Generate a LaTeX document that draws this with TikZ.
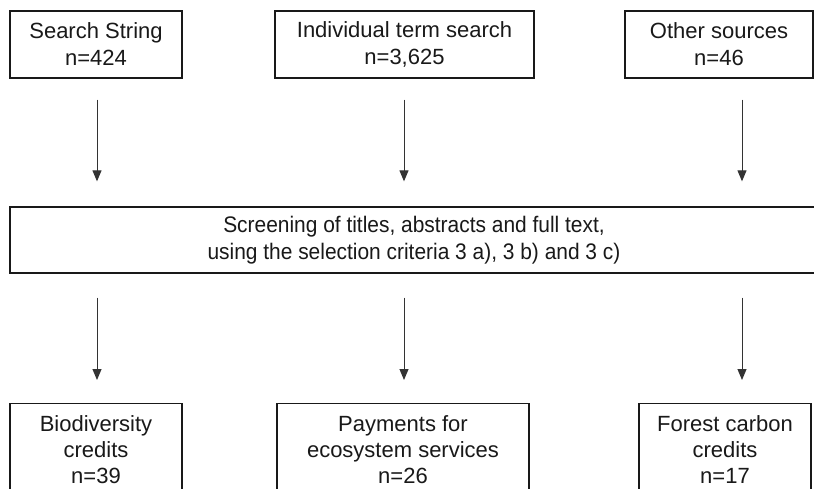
\documentclass[tikz,border=0pt]{standalone}
\usepackage{fontspec}
\setmainfont{Liberation Sans}
\newfontfamily\narrowfont[FakeStretch=0.93]{Liberation Sans}
\usetikzlibrary{arrows.meta}
\begin{document}
\begin{tikzpicture}[x=1pt,y=-1pt,
  box/.style={draw=black!90, line width=1.3pt, align=center, inner sep=0pt, text=black!90,
    font=\fontsize{22}{27}\selectfont},
  lowbox/.style={box, anchor=north, minimum height=92pt, font=\fontsize{22}{26}\selectfont},
  arr/.style={draw=black!80, line width=1pt, -{Triangle[length=11pt,width=9pt]}}]
\useasboundingbox (0,0) rectangle (814,489);
\fill[white] (0,0) rectangle (814,489);
\clip (0,0) rectangle (814,489);
% top row
\node[box, minimum width=172pt, minimum height=67pt] (t1) at (96,44.5) {Search String\\n=424};
\node[box, minimum width=259pt, minimum height=67pt] (t2) at (404.5,44.5) {Individual term search\\n=3,625};
\node[box, minimum width=188pt, minimum height=67pt] (t3) at (719,44.5) {Other sources\\n=46};
% middle
\node[box, minimum width=808pt, minimum height=66pt, font=\narrowfont\fontsize{22.5}{27}\selectfont] (mid) at (414,240)
  {Screening of titles, abstracts and full text,\\using the selection criteria 3 a), 3 b) and 3 c)};
% bottom row
\node[lowbox, minimum width=172pt] (b1) at (96,403) {Biodiversity\\credits\\n=39};
\node[lowbox, minimum width=252pt] (b2) at (403,403) {Payments for\\ecosystem services\\n=26};
\node[lowbox, minimum width=172pt] (b3) at (725,403) {Forest carbon\\credits\\n=17};
% arrow columns
\coordinate (a1) at (97,0);
\coordinate (a2) at (404,0);
\coordinate (a3) at (742,0);
\draw[arr, shorten <=21pt, shorten >=25pt] (t1.south -| a1) -- (mid.north -| a1);
\draw[arr, shorten <=21pt, shorten >=25pt] (t2.south -| a2) -- (mid.north -| a2);
\draw[arr, shorten <=21pt, shorten >=25pt] (t3.south -| a3) -- (mid.north -| a3);
\draw[arr, shorten <=24pt, shorten >=23pt] (mid.south -| a1) -- (b1.north -| a1);
\draw[arr, shorten <=24pt, shorten >=23pt] (mid.south -| a2) -- (b2.north -| a2);
\draw[arr, shorten <=24pt, shorten >=23pt] (mid.south -| a3) -- (b3.north -| a3);
\end{tikzpicture}
\end{document}
